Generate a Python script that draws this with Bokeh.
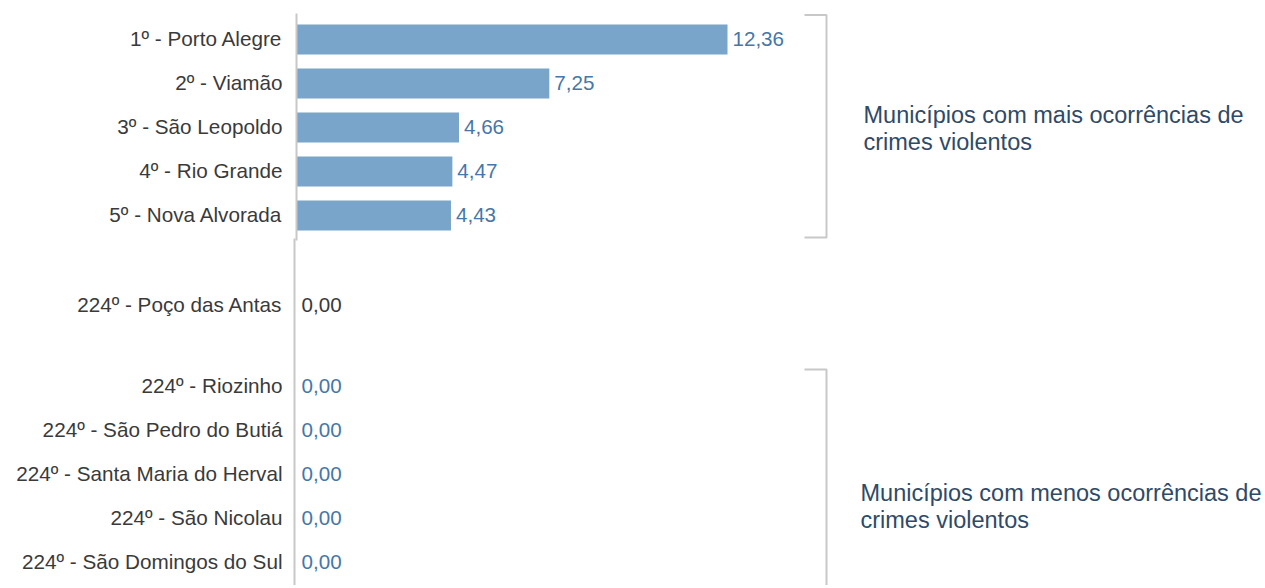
from bokeh.plotting import figure
from bokeh.models import Range1d
from bokeh.embed import file_html
from bokeh.resources import INLINE
from bokeh.core.properties import value

# ---- data ----
municipios = [
    "1º - Porto Alegre", "2º - Viamão", "3º - São Leopoldo", "4º - Rio Grande", "5º - Nova Alvorada",
    "224º - Poço das Antas",
    "224º - Riozinho", "224º - São Pedro do Butiá", "224º - Santa Maria do Herval",
    "224º - São Nicolau", "224º - São Domingos do Sul",
]
taxas = [12.36, 7.25, 4.66, 4.47, 4.43, 0.00, 0.00, 0.00, 0.00, 0.00, 0.00]
grupos = ["mais"] * 5 + ["destaque"] + ["menos"] * 5
anotacao_mais = ["Municípios com mais ocorrências de", "crimes violentos"]
anotacao_menos = ["Municípios com menos ocorrências de", "crimes violentos"]

# ---- layout (page pixels) ----
W, H = 1262, 585
ORIGIN = 0
PX_PER_UNIT = 34.87
X0_PAGE = 296
STEP = 44
GROUP_START = {"mais": 39, "destaque": 305, "menos": 386}

def px2x(px):
    return (px - X0_PAGE) / PX_PER_UNIT

row_y = []
counts = {}
for g in grupos:
    k = counts.get(g, 0)
    row_y.append(GROUP_START[g] + STEP * k)
    counts[g] = k + 1

FONT = value("Liberation Sans")
BAR = "#78A5C9"
BLUE = "#4677A8"
DARK = "#3A3A3A"
GRAY = "#C8C8C8"
NOTE = "#2F4A68"

p = figure(width=W, height=H, x_range=Range1d(px2x(ORIGIN), px2x(ORIGIN + W)),
           y_range=Range1d(ORIGIN + H, ORIGIN), output_backend="svg", toolbar_location=None,
           x_axis_location=None, y_axis_location=None, min_border=0)
p.grid.visible = False
p.outline_line_color = None

# bars
p.hbar(y=row_y, left=0, right=taxas, height=30, color=BAR, line_color=None)

# axis lines
p.segment(x0=[0], y0=[13], x1=[0], y1=[240], line_color=GRAY, line_width=2)
p.segment(x0=[px2x(294)], y0=[238], x1=[px2x(294)], y1=[ORIGIN + H], line_color=GRAY, line_width=2)

# category labels
p.text(x=[px2x(282)] * len(municipios), y=row_y, text=municipios, text_font=FONT,
       text_font_size="20.7px", text_color=DARK, text_align="right", text_baseline="middle",
       y_offset=-1)

# value labels
rotulos = [f"{v:.2f}".replace(".", ",") for v in taxas]
cores = [DARK if g == "destaque" else BLUE for g in grupos]
p.text(x=taxas, y=row_y, text=rotulos, x_offset=5, y_offset=-1, text_font=FONT,
       text_font_size="20.6px", text_color=cores, text_align="left", text_baseline="middle")

# brackets
bx0, bx1 = px2x(804), px2x(826)
p.line(x=[bx0, bx1, bx1, bx0], y=[14.5, 14.5, 237, 237], line_color=GRAY, line_width=2)
p.line(x=[bx0, bx1, bx1], y=[369, 369, ORIGIN + H], line_color=GRAY, line_width=2)

# group notes
p.text(x=[px2x(863)] * 2, y=[114, 141], text=anotacao_mais, text_font=FONT,
       text_font_size="23.5px", text_color=NOTE, text_align="left", text_baseline="middle")
p.text(x=[px2x(860)] * 2, y=[492, 519], text=anotacao_menos, text_font=FONT,
       text_font_size="23.5px", text_color=NOTE, text_align="left", text_baseline="middle")

open("out.html", "w").write(file_html(p, INLINE))
